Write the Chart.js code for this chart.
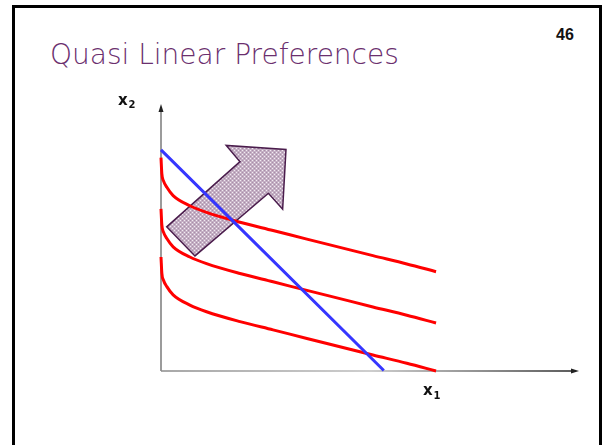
<!DOCTYPE html>
<html>
<head>
<meta charset="utf-8">
<script src="https://cdn.jsdelivr.net/npm/chart.js@4.4.1/dist/chart.umd.min.js"></script>
<style>
  html, body { margin: 0; padding: 0; background: #fff; }
  #slide { position: relative; width: 602px; height: 445px; overflow: hidden; }
  #frame { position: absolute; left: 12px; top: 5px; width: 584px; height: 460px; border: 3px solid #000; }
  #titulo { position: absolute; left: 50px; top: 39px; font-family: "DejaVu Sans", sans-serif; font-weight: 200;
            font-size: 28px; line-height: 1.164; color: #6b2f6e; white-space: nowrap; }
  #pagina { position: absolute; left: 556px; top: 26px; font-family: "Liberation Sans", Arial, sans-serif;
            font-weight: bold; font-size: 16px; color: #111; }
  canvas { position: absolute; left: 0; top: 0; }
</style>
</head>
<body>
<div id="slide">
  <div id="frame"></div>
  <div id="titulo">Quasi Linear Preferences</div>
  <div id="pagina">46</div>
  <canvas id="grafico" width="602" height="445"></canvas>
</div>
<script>
// ejes: 0..10 en ambos sentidos
const xMax = 10
const yMax = 10

// curvas de indiferencia (desplazadas verticalmente entre si)
const curvaX = [0, 0.02, 0.06, 0.14, 0.29, 0.69, 1.09, 1.89, 2.68, 3.49, 4.28, 5.07, 5.88, 6.58]
const curvaBaja = [4.27, 3.67, 3.40, 3.16, 2.85, 2.47, 2.22, 1.85, 1.54, 1.22, 0.91, 0.60, 0.29, 0.00]
const curvaMedia = [6.07, 5.47, 5.20, 4.96, 4.65, 4.27, 4.02, 3.65, 3.34, 3.02, 2.71, 2.40, 2.09, 1.80]
const curvaAlta = [7.99, 7.39, 7.12, 6.88, 6.57, 6.19, 5.94, 5.57, 5.26, 4.94, 4.63, 4.32, 4.01, 3.72]

// restriccion presupuestaria
const rectaX = [0, 5.33]
const rectaY = [8.28, 0.02]

// flecha de direccion de preferencia
const flechaX = [0.136, 0.813, 2.57, 2.91, 2.99, 1.56, 1.89]
const flechaY = [5.40, 4.31, 6.66, 6.06, 8.30, 8.45, 7.84]

function puntos(xs, ys) {
  return xs.map((v, i) => ({ x: v, y: ys[i] }))
}

function trama(ctx) {
  const c = document.createElement('canvas')
  c.width = 4
  c.height = 4
  const p = c.getContext('2d')
  p.fillStyle = '#c4afc4'
  p.fillRect(0, 0, 4, 4)
  p.fillStyle = '#f2ecf2'
  p.fillRect(0, 0, 1, 1)
  p.fillRect(2, 2, 1, 1)
  p.fillStyle = '#a88ea8'
  p.fillRect(2, 0, 1, 1)
  p.fillRect(0, 2, 1, 1)
  return ctx.createPattern(c, 'repeat')
}

const ejes = {
  id: 'ejes',
  beforeDatasetsDraw(chart) {
    const { ctx, scales: { x, y } } = chart
    const x0 = x.getPixelForValue(0)
    const y0 = y.getPixelForValue(0)
    const xFin = x.getPixelForValue(xMax)
    const yFin = y.getPixelForValue(yMax)
    ctx.save()

    // eje vertical
    ctx.strokeStyle = '#7a7a7a'
    ctx.lineWidth = 1.5
    ctx.beginPath()
    ctx.moveTo(x0, y0)
    ctx.lineTo(x0, yFin + 6)
    ctx.stroke()
    ctx.fillStyle = '#222'
    ctx.beginPath()
    ctx.moveTo(x0, yFin)
    ctx.lineTo(x0 - 2.5, yFin + 8)
    ctx.lineTo(x0 + 2.5, yFin + 8)
    ctx.closePath()
    ctx.fill()

    // eje horizontal
    const grad = ctx.createLinearGradient(x0, 0, xFin, 0)
    grad.addColorStop(0, '#8a8a8a')
    grad.addColorStop(0.5, '#bdbdbd')
    grad.addColorStop(1, '#222')
    ctx.strokeStyle = grad
    ctx.beginPath()
    ctx.moveTo(x0, y0)
    ctx.lineTo(xFin - 6, y0)
    ctx.stroke()
    ctx.fillStyle = '#222'
    ctx.beginPath()
    ctx.moveTo(xFin, y0)
    ctx.lineTo(xFin - 8, y0 - 2.5)
    ctx.lineTo(xFin - 8, y0 + 2.5)
    ctx.closePath()
    ctx.fill()

    // etiquetas x1, x2
    ctx.fillStyle = '#111'
    ctx.font = 'bold 15px "DejaVu Sans", sans-serif'
    ctx.fillText('x', x0 - 43, yFin + 1)
    ctx.fillText('x', x0 + 262, y0 + 24)
    ctx.font = 'bold 10px "DejaVu Sans", sans-serif'
    ctx.fillText('2', x0 - 32.5, yFin + 4)
    ctx.fillText('1', x0 + 272.5, y0 + 28)

    // flecha grande
    const pts = chart.getDatasetMeta(4).data
    ctx.beginPath()
    pts.forEach((p, i) => i ? ctx.lineTo(p.x, p.y) : ctx.moveTo(p.x, p.y))
    ctx.closePath()
    ctx.fillStyle = trama(ctx)
    ctx.fill()
    ctx.strokeStyle = '#4a1c4c'
    ctx.lineWidth = 1.5
    ctx.lineJoin = 'miter'
    ctx.stroke()
    ctx.restore()
  }
}

const linea = (datos, color) => ({
  data: datos,
  borderColor: color,
  backgroundColor: color,
  borderWidth: 3,
  pointRadius: 0,
  showLine: true,
  fill: false,
  cubicInterpolationMode: 'monotone',
  clip: false
})

const config = {
  type: 'scatter',
  data: {
    datasets: [
      linea(puntos(rectaX, rectaY), '#3636ff'),
      linea(puntos(curvaX, curvaAlta), '#ff0000'),
      linea(puntos(curvaX, curvaMedia), '#ff0000'),
      linea(puntos(curvaX, curvaBaja), '#ff0000'),
      {
        data: puntos(flechaX, flechaY),
        showLine: false,
        pointRadius: 0,
        clip: false
      }
    ]
  },
  options: {
    responsive: false,
    animation: false,
    layout: { padding: { left: 161, right: 23, top: 104, bottom: 74 } },
    plugins: { legend: { display: false }, tooltip: { enabled: false } },
    scales: {
      x: { type: 'linear', min: 0, max: xMax, display: false },
      y: { type: 'linear', min: 0, max: yMax, display: false }
    }
  },
  plugins: [ejes]
}

new Chart(document.getElementById('grafico'), config)
</script>
</body>
</html>
